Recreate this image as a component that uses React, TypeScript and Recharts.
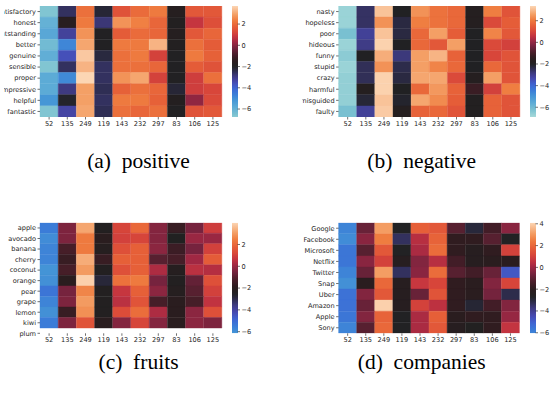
import React from "react";
import { BarChart, Bar, Cell, XAxis, YAxis } from "recharts";

const columns = ["52", "135", "249", "119", "143", "232", "297", "83", "106", "125"];

const positiveRows = ["satisfactory", "honest", "outstanding", "better", "genuine", "sensible", "proper", "impressive", "helpful", "fantastic"];
const positiveValues = [
  [-6.6, -2.6, 2.1, -2.2, 1.5, 2.0, 2.3, -1.7, 1.6, 1.6],
  [-6.0, -1.6, 2.3, -2.8, 2.7, 2.4, 1.9, -1.9, 0.8, 1.4],
  [-5.7, -3.2, 2.7, -2.0, 1.7, 2.0, 1.9, -1.7, 1.6, 1.9],
  [-6.3, -4.8, 3.0, -2.0, 2.3, 2.3, 3.2, -1.9, 2.1, 1.7],
  [-5.9, -3.6, 3.5, -2.3, 2.1, 2.3, 1.1, -2.0, 2.3, 1.8],
  [-6.6, -2.6, 3.2, -2.6, 2.1, 2.1, 1.9, -2.0, 1.7, 1.5],
  [-5.8, -4.9, 3.7, -2.6, 2.7, 3.0, 1.1, -2.0, 1.0, 2.1],
  [-5.8, -2.9, 2.9, -2.5, 1.8, 2.1, 1.9, -2.2, 1.0, 1.2],
  [-5.2, -2.1, 2.9, -2.6, 2.3, 2.3, 1.8, -1.8, 0.1, 1.3],
  [-6.6, -3.3, 3.0, -2.5, 2.1, 1.9, 2.1, -2.0, 1.5, 1.6],
];

const negativeRows = ["nasty", "hopeless", "poor", "hideous", "funny", "stupid", "crazy", "harmful", "misguided", "faulty"];
const negativeValues = [
  [-6.7, -2.6, 3.1, -2.0, 2.4, 1.9, 1.7, -1.8, 2.1, 1.3],
  [-6.7, -2.6, 2.4, -2.3, 2.1, 1.9, 1.7, -1.8, 1.1, 1.5],
  [-6.2, -3.1, 3.1, -2.3, 1.7, 2.6, 1.5, -2.0, 2.2, 1.4],
  [-6.7, -2.9, 3.3, -2.0, 1.7, 1.4, 2.6, -2.0, 1.1, 0.9],
  [-6.5, -2.0, 2.8, -2.8, 2.6, 2.9, 1.6, -2.0, 1.0, 1.3],
  [-6.7, -2.5, 2.4, -2.4, 2.6, 2.2, 1.7, -2.0, 1.7, 1.3],
  [-6.6, -2.5, 3.3, -2.3, 2.7, 2.7, 1.1, -1.8, 2.6, 1.3],
  [-6.6, -1.8, 3.3, -2.0, 1.7, 2.5, 1.6, -1.2, 0.9, 2.1],
  [-6.6, -2.2, 3.1, -2.1, 2.7, 2.3, 1.5, -1.9, 1.6, 1.3],
  [-6.2, -3.1, 3.2, -1.8, 1.6, 1.7, 1.3, -1.9, 1.6, 1.3],
];

const fruitRows = ["apple", "avocado", "banana", "cherry", "coconut", "orange", "pear", "grape", "lemon", "kiwi", "plum"];
const fruitValues = [
  [-5.5, -0.4, 3.2, -2.4, 1.1, 2.0, -0.3, -1.6, -0.5, 0.9],
  [-5.9, -0.4, 2.4, -2.0, 1.0, 1.1, -0.3, -2.5, 0.0, 0.0],
  [-5.7, -1.3, 2.4, -2.2, 1.4, 1.8, -0.2, -1.5, -0.5, 1.0],
  [-5.7, -1.6, 3.3, -1.6, 1.8, 1.8, -1.0, -1.3, 0.1, 1.7],
  [-6.1, -1.3, 3.0, -2.4, 1.4, 1.8, 0.3, -2.2, 0.5, 0.4],
  [-6.0, -2.0, 3.9, -2.8, 2.2, 2.4, -0.5, -2.4, -0.8, 1.4],
  [-5.3, -0.5, 2.6, -2.4, 0.7, 1.8, -0.2, -2.2, -1.0, 1.0],
  [-5.7, -0.4, 3.0, -2.4, 0.5, 1.5, -1.3, -2.0, -1.3, 0.6],
  [-6.0, -1.6, 2.8, -2.4, 1.3, 2.1, 0.3, -2.0, -0.2, 1.4],
  [-5.5, -0.4, 1.5, -2.0, -0.3, 1.1, -0.3, -2.0, -0.2, -0.4],
];

const companyRows = ["Google", "Facebook", "Microsoft", "Netflix", "Twitter", "Snap", "Uber", "Amazon", "Apple", "Sony"];
const companyValues = [
  [-6.0, -0.8, 3.1, -2.7, 1.8, 1.6, -1.1, -3.0, -1.5, -0.3],
  [-6.2, -0.3, 2.5, -3.4, 0.4, 1.9, -1.9, -1.9, -1.1, -2.7],
  [-5.6, -1.1, 1.6, -2.7, 0.2, 2.1, -1.9, -2.3, -1.9, 1.0],
  [-5.6, -0.3, 1.0, -2.3, -0.4, 0.4, -1.5, -2.3, -2.1, -2.1],
  [-6.0, -0.8, 3.1, -3.4, -0.3, 2.1, -1.1, -1.5, -0.8, -4.8],
  [-6.3, -2.1, 2.0, -2.3, 0.7, 1.1, -1.9, -2.1, -0.4, 1.1],
  [-5.5, -0.4, 1.6, -2.3, -0.8, 1.5, -1.9, -2.1, -0.6, -3.2],
  [-5.5, -0.8, 4.0, -2.3, 1.0, 0.5, -1.9, -2.9, -1.5, -0.4],
  [-5.6, -0.4, 1.9, -2.7, 0.2, 1.8, -2.1, -1.9, -1.9, -0.1],
  [-6.0, -1.1, 2.0, -2.7, 0.2, 1.6, -2.3, -2.6, -1.9, 0.6],
];

// approximate seaborn "icefire"
const icefire: [number, string][] = [
  [0.0, "#bde7db"], [0.05, "#a0d6d8"], [0.1, "#7cc2d1"], [0.16, "#5eacd6"], [0.22, "#4596d6"],
  [0.27, "#3b7cd8"], [0.32, "#3f64d2"], [0.37, "#4749b0"], [0.42, "#3e3a80"], [0.46, "#2d2c4c"],
  [0.5, "#212121"], [0.55, "#2c1c1f"], [0.6, "#4a1e2a"], [0.65, "#72233d"], [0.7, "#a02843"],
  [0.74, "#c23340"], [0.78, "#d8463a"], [0.83, "#e65f38"], [0.88, "#ef7c3f"], [0.93, "#f4a066"],
  [0.97, "#f8be93"], [1.0, "#fcd6b4"],
];

type Scale = { vmin: number; vmax: number; tLo: number; tHi: number; ticks: number[] };

const hex = (h: string) => [1, 3, 5].map((i) => parseInt(h.slice(i, i + 2), 16));

function cmap(t: number) {
  t = Math.max(0, Math.min(1, t));
  for (let i = 1; i < icefire.length; i++) {
    const [t1, c1] = icefire[i];
    const [t0, c0] = icefire[i - 1];
    if (t <= t1) {
      const f = (t - t0) / (t1 - t0);
      const a = hex(c0), b = hex(c1);
      return `rgb(${a.map((x, k) => Math.round(x + (b[k] - x) * f)).join(",")})`;
    }
  }
  return icefire[icefire.length - 1][1];
}

const colorFor = (v: number, s: Scale) => cmap(s.tLo + ((s.tHi - s.tLo) * (v - s.vmin)) / (s.vmax - s.vmin));

const fmt = (v: number) => (v < 0 ? `\u2212${Math.abs(v)}` : `${v}`);

const tickLine = { stroke: "#333", strokeWidth: 0.7 };

// plain dark tick text
const makeTick = (label: (v: any) => string) => (props: any) => {
  const { x, y, payload, textAnchor, verticalAnchor } = props;
  return (
    <text
      x={x}
      y={y}
      dy={verticalAnchor === "start" ? "0.71em" : "0.355em"}
      textAnchor={textAnchor}
      fontSize={6.6}
      fontFamily="DejaVu Sans"
      fill="#262626"
    >
      {label(payload.value)}
    </text>
  );
};

interface PanelProps {
  id: string;
  rows: string[];
  values: number[][];
  scale: Scale;
  top: number;
  chartW: number;
  plotLeft: number;
  plotRight: number;
  plotTop: number;
  plotBottom: number;
  cbLeft: number;
}

function Panel({ id, rows, values, scale, top, chartW, plotLeft, plotRight, plotTop, plotBottom, cbLeft }: PanelProps) {
  const chartH = 150;
  const data = columns.map((c) => {
    const d: Record<string, any> = { col: c };
    values.forEach((_, i) => (d[`r${i}`] = 1));
    return d;
  });
  const yMax = rows.length === values.length ? values.length : values.length + 0.5;
  const yTicks = rows.map((_, i) => i + 0.5);
  const cbData = [{ k: "cb", v: [scale.vmin, scale.vmax] }];
  const stops = Array.from({ length: 41 }, (_, i) => i / 40);

  return (
    <>
      <div style={{ position: "absolute", left: 0, top }}>
        <BarChart
          width={chartW}
          height={chartH}
          data={data}
          barCategoryGap={0}
          barGap={0}
          margin={{ top: plotTop - top, right: chartW - plotRight, bottom: 0, left: 0 }}
        >
          <XAxis
            dataKey="col"
            interval={0}
            height={chartH - (plotBottom - top)}
            tick={makeTick((v) => String(v))}
            tickLine={tickLine}
            tickSize={2.5}
            tickMargin={2}
            axisLine={false}
          />
          <YAxis
            type="number"
            domain={[0, yMax]}
            reversed
            ticks={yTicks}
            interval={0}
            width={plotLeft}
            tick={makeTick((v) => rows[Math.round(v - 0.5)])}
            tickLine={tickLine}
            tickSize={2.5}
            tickMargin={1.5}
            axisLine={false}
            allowDataOverflow
          />
          {values.map((row, i) => (
            <Bar key={i} dataKey={`r${i}`} stackId="h" isAnimationActive={false}>
              {row.map((v, j) => (
                <Cell key={j} fill={colorFor(v, scale)} stroke={colorFor(v, scale)} strokeWidth={0.4} />
              ))}
            </Bar>
          ))}
        </BarChart>
      </div>
      <div style={{ position: "absolute", left: cbLeft, top }}>
        <BarChart
          width={24}
          height={chartH}
          data={cbData}
          barCategoryGap={0}
          margin={{ top: plotTop - top, right: 0, bottom: chartH - (plotBottom - top), left: 0 }}
        >
          <defs>
            <linearGradient id={`cb-${id}`} x1="0" y1="0" x2="0" y2="1">
              {stops.map((o) => (
                <stop key={o} offset={o} stopColor={colorFor(scale.vmax - o * (scale.vmax - scale.vmin), scale)} />
              ))}
            </linearGradient>
          </defs>
          <XAxis dataKey="k" hide />
          <YAxis
            orientation="right"
            type="number"
            domain={[scale.vmin, scale.vmax]}
            ticks={scale.ticks}
            interval={0}
            width={18.5}
            tick={makeTick((v) => fmt(v))}
            tickLine={tickLine}
            tickSize={2.5}
            tickMargin={1.5}
            axisLine={false}
            allowDataOverflow
          />
          <Bar dataKey="v" fill={`url(#cb-${id})`} isAnimationActive={false} />
        </BarChart>
      </div>
    </>
  );
}

const captionStyle: React.CSSProperties = {
  position: "absolute",
  width: 240,
  textAlign: "center",
  fontFamily: "Liberation Serif",
  fontSize: 21.5,
  lineHeight: 1,
  whiteSpace: "pre",
  color: "#000",
};

export default function App() {
  return (
    <div style={{ position: "absolute", left: 0, top: 0, width: 551, height: 397, background: "#fff", overflow: "hidden" }}>
      <div style={{ position: "absolute", left: 0, top: 0, width: 276, height: 397, clipPath: "inset(0 0 0 4px)" }}>
        <Panel
          id="a"
          rows={positiveRows}
          values={positiveValues}
          scale={{ vmin: -6.75, vmax: 3.7, tLo: 0.08, tHi: 1, ticks: [-6, -4, -2, 0, 2] }}
          top={0}
          chartW={276}
          plotLeft={40}
          plotRight={222}
          plotTop={6}
          plotBottom={117}
          cbLeft={232}
        />
        <Panel
          id="c"
          rows={fruitRows}
          values={fruitValues}
          scale={{ vmin: -6.15, vmax: 4.0, tLo: 0.22, tHi: 1, ticks: [-6, -4, -2, 0, 2] }}
          top={200}
          chartW={276}
          plotLeft={40}
          plotRight={222}
          plotTop={222.7}
          plotBottom={333.3}
          cbLeft={232}
        />
      </div>
      <div style={{ position: "absolute", left: 276, top: 0, width: 275, height: 397, clipPath: "inset(0 0 0 26.5px)" }}>
        <Panel
          id="b"
          rows={negativeRows}
          values={negativeValues}
          scale={{ vmin: -6.9, vmax: 3.36, tLo: 0.04, tHi: 1, ticks: [-6, -4, -2, 0, 2] }}
          top={0}
          chartW={275}
          plotLeft={62.6}
          plotRight={244}
          plotTop={6}
          plotBottom={117}
          cbLeft={254}
        />
        <Panel
          id="d"
          rows={companyRows}
          values={companyValues}
          scale={{ vmin: -6.05, vmax: 4.1, tLo: 0.25, tHi: 1, ticks: [-6, -4, -2, 0, 2, 4] }}
          top={200}
          chartW={275}
          plotLeft={62.6}
          plotRight={243.5}
          plotTop={222.7}
          plotBottom={333.3}
          cbLeft={254}
        />
      </div>
      <div style={{ ...captionStyle, left: 18.5, top: 151.3 }}>{"(a)  positive"}</div>
      <div style={{ ...captionStyle, left: 301.7, top: 151.3 }}>{"(b)  negative"}</div>
      <div style={{ ...captionStyle, left: 18.5, top: 352 }}>{"(c)  fruits"}</div>
      <div style={{ ...captionStyle, left: 301.7, top: 352 }}>{"(d)  companies"}</div>
    </div>
  );
}
